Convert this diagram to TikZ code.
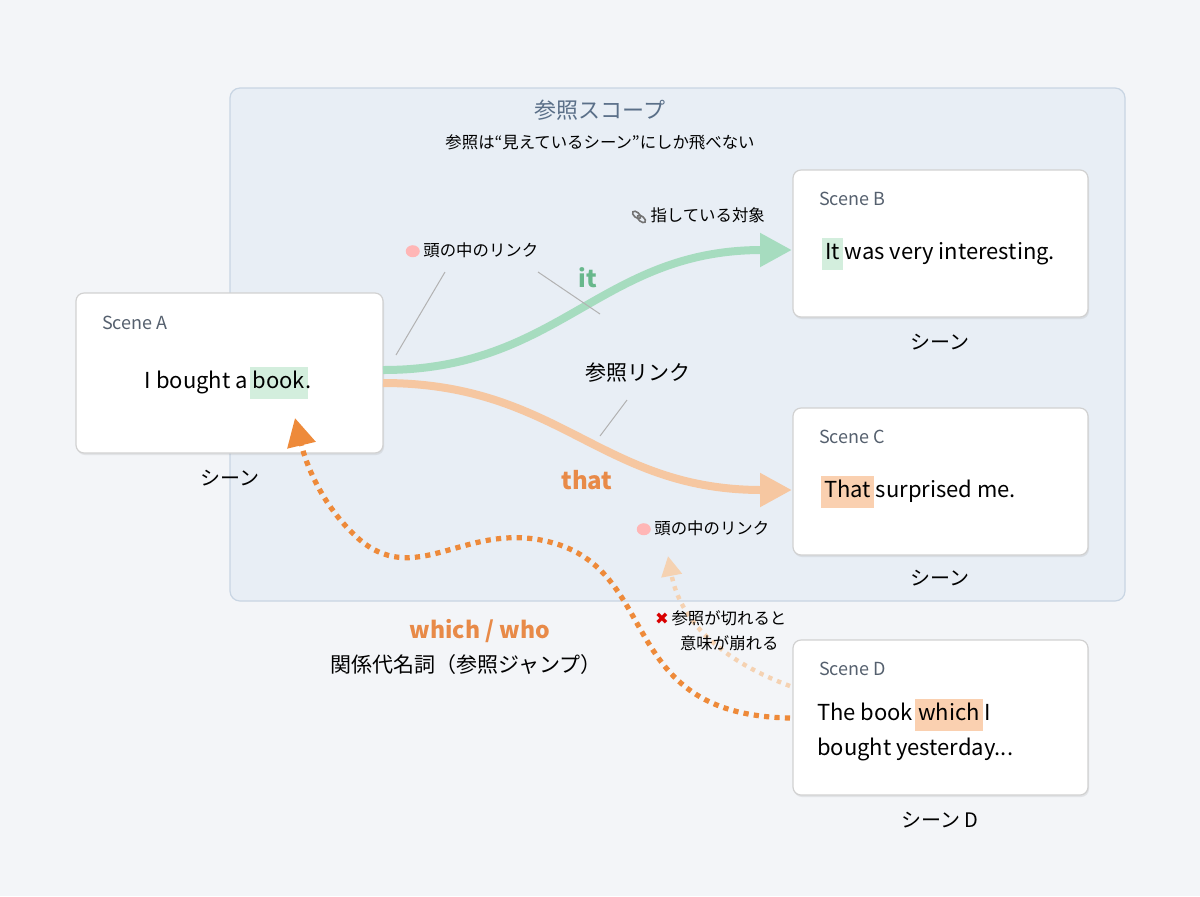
\documentclass[tikz,border=0pt]{standalone}
\usepackage{fontspec}
\setmainfont{Noto Sans CJK JP}
\newfontfamily\dejavu{DejaVu Sans}
\usetikzlibrary{arrows.meta,shadows}
\definecolor{bg}{HTML}{F3F5F8}
\definecolor{scopefill}{HTML}{E8EEF5}
\definecolor{scopeline}{HTML}{C8D5E3}
\definecolor{titlec}{HTML}{5A6F88}
\definecolor{labg}{HTML}{55606E}
\definecolor{hlg}{HTML}{D3EEDD}
\definecolor{hlo}{HTML}{FAD0B0}
\definecolor{arrg}{HTML}{A6DCBF}
\definecolor{arro}{HTML}{F6C7A1}
\definecolor{itc}{HTML}{68B88C}
\definecolor{thatc}{HTML}{E88A48}
\definecolor{dotc}{HTML}{EE8A3A}
\definecolor{faint}{HTML}{F5D2B2}
\newcommand{\hlbox}[2]{{\setlength{\fboxsep}{1.5pt}\kern-1.5pt\colorbox{#1}{\strut #2}\kern-1.5pt}}
\newcommand{\brainicon}{\tikz[baseline=-2.5pt]\fill[pink!70!red!60] (0,0) ellipse (3.5pt and 3pt);}
\newcommand{\linkicon}{\tikz[baseline=-2.5pt,rotate=-40]{\draw[black!55,line width=0.8pt] (-1.6pt,0) ellipse (2.4pt and 1.3pt); \draw[black!55,line width=0.8pt] (1.6pt,0) ellipse (2.4pt and 1.3pt);}}
\begin{document}
\begin{tikzpicture}[x=0.5pt,y=-0.5pt,
  scene/.style={draw=black!18,fill=white,rounded corners=4pt,line width=0.6pt,
    drop shadow={shadow xshift=0.5pt,shadow yshift=-1pt,opacity=0.15}},
  slabel/.style={anchor=west,font=\fontsize{9}{10}\selectfont,text=labg},
  body/.style={font=\fontsize{11}{13}\selectfont},
  sceneCap/.style={font=\fontsize{10}{12}\selectfont},
  small/.style={font=\fontsize{8.2}{10}\selectfont},
  thinl/.style={draw=black!30,line width=0.5pt}]
\useasboundingbox (0,0) rectangle (1200,896);
\fill[bg] (0,0) rectangle (1200,896);
\draw[scopeline,fill=scopefill,rounded corners=5pt,line width=0.6pt] (230,88) rectangle (1125,601);
\node[text=titlec,font=\fontsize{11}{13}\selectfont] (title) at (600,110) {参照スコープ};
\node[small] (sub) at (600,142) {参照は“見えているシーン”にしか飛べない};
% boxes
\draw[scene] (76,293) rectangle (383,453);
\coordinate (Ar) at (383,370); \coordinate (Ar2) at (383,383); \coordinate (Ab) at (295,418);
\node[slabel] (la) at (95,323) {Scene A};
\node[body] (ta) at (228,383) {I bought a \hlbox{hlg}{book}.};
\node[sceneCap] (ca) at (230,478) {シーン};
\draw[scene] (793,170) rectangle (1088,317);
\node[slabel] (lb) at (812,199) {Scene B};
\node[body] (tb) at (940,254) {\hlbox{hlg}{It} was very interesting.};
\node[sceneCap] (cb) at (940,342) {シーン};
\draw[scene] (793,408) rectangle (1088,555);
\node[slabel] (lc) at (812,437) {Scene C};
\node[body] (tc) at (920,492) {\hlbox{hlo}{That} surprised me.};
\node[sceneCap] (cc) at (940,578) {シーン};
\draw[scene] (793,640) rectangle (1088,795);
\node[slabel] (ld) at (812,669) {Scene D};
\node[body,anchor=west] (td1) at (810,715) {The book \hlbox{hlo}{which} I};
\node[body,anchor=west] (td2) at (810,749) {bought yesterday...};
\node[sceneCap] (cd) at (940,820) {シーン D};
% arrows
\coordinate (Bt) at (792,250); \coordinate (Ct) at (792,490);
\draw[arrg,line width=4pt,-{Triangle[length=16pt,width=16pt]}] (Ar) .. controls (560,370) and (600,250) .. (Bt);
\draw[arro,line width=4pt,-{Triangle[length=16pt,width=16pt]}] (Ar2) .. controls (560,383) and (600,490) .. (Ct);
\node[text=itc,font=\bfseries\fontsize{12}{14}\selectfont] (it) at (588,278) {it};
\node[text=thatc,font=\bfseries\fontsize{12}{14}\selectfont] (that) at (587,480) {that};
\node[font=\fontsize{10.5}{12}\selectfont] (ref) at (638,373) {参照リンク};
% icon labels
\node[small] (brain1) at (472,250) {\brainicon\ 頭の中のリンク};
\node[small] (link) at (698,216) {\linkicon\ 指している対象};
\node[small] (brain2) at (703,528) {\brainicon\ 頭の中のリンク};
\coordinate (l1a) at (445,272); \coordinate (l1b) at (396,355);
\coordinate (l2a) at (538,272); \coordinate (l2b) at (600,314);
\coordinate (l3a) at (627,400); \coordinate (l3b) at (600,436);
\draw[thinl] (l1a) -- (l1b); \draw[thinl] (l2a) -- (l2b); \draw[thinl] (l3a) -- (l3b);
% dotted jump
\coordinate (Dl) at (790,718); \coordinate (Dl2) at (790,686); \coordinate (Cb) at (668,556);
\draw[dotc,line width=2.6pt,dash pattern=on 2.6pt off 2.6pt,-{Triangle[length=14pt,width=14pt]}]
  (Dl) .. controls (620,715) and (660,580) .. (560,545)
  .. controls (470,515) and (420,590) .. (360,540)
  .. controls (320,505) and (305,460) .. (Ab);
\draw[faint,line width=2.2pt,dash pattern=on 2.2pt off 2.6pt,-{Triangle[length=10pt,width=10pt]}]
  (Dl2) .. controls (720,660) and (680,620) .. (Cb);
\node[small,anchor=west] (x1) at (648,618) {{\dejavu\color{red!85!black}\textbf{✖}}\,参照が切れると};
\node[small,anchor=west] (x2) at (673,643) {意味が崩れる};
\node[text=thatc,font=\bfseries\fontsize{11.5}{14}\selectfont] (which) at (480,631) {which / who};
\node[font=\fontsize{10.5}{12}\selectfont] (rel) at (466,665) {関係代名詞（参照ジャンプ）};
\end{tikzpicture}
\end{document}
